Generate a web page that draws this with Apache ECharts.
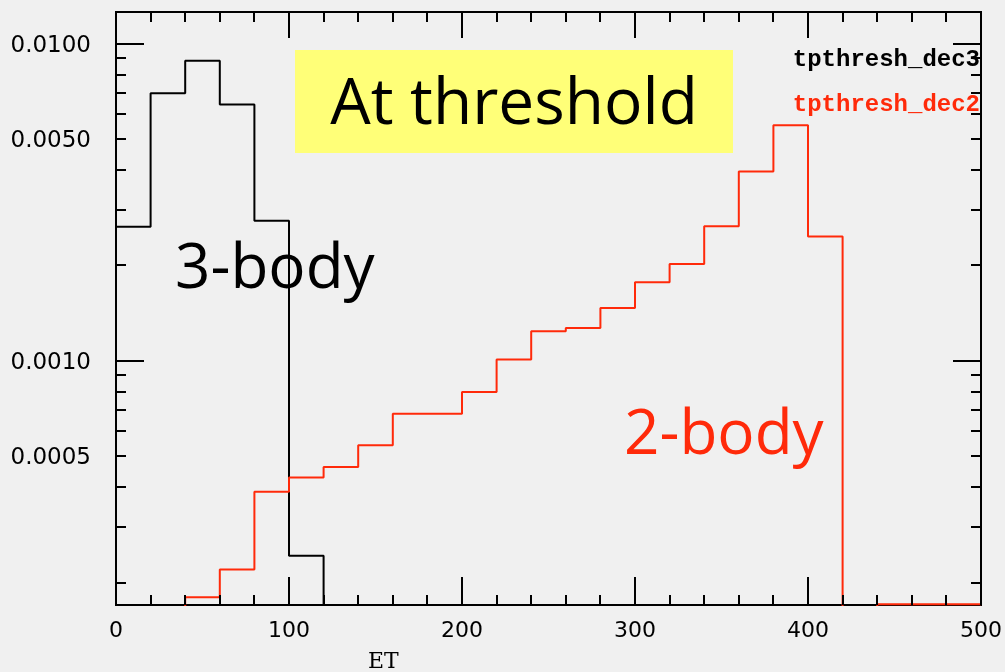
<!DOCTYPE html>
<html>
<head>
<meta charset="utf-8">
<script src="https://cdn.jsdelivr.net/npm/echarts@6/dist/echarts.min.js"></script>
<style>
html,body{margin:0;padding:0;background:#f0f0f0;}
#chart{width:1005px;height:672px;}
</style>
</head>
<body>
<div id="chart"></div>
<script>
// ---- data ----
const binEdges = [0,20,40,60,80,100,120,140,160,180,200,220,240,260,280,300,320,340,360,380,400,420,440,460,480,500];
const dec3Values = [0.00265,0.00699,0.00884,0.00644,0.00277,0.000243,0,0,0,0,0,0,0,0,0,0,0,0,0,0,0,0,0,0,0];
const dec2Values = [0,0,0.000180,0.000220,0.000387,0.000429,0.000463,0.000542,0.000682,0.000682,0.000798,0.00101,0.00124,0.00127,0.00147,0.00177,0.00202,0.00266,0.00396,0.00554,0.00247,0,0.000171,0.000171,0.000171];
const xTickValues = [0,100,200,300,400,500];
const xMinorTickValues = [20,40,60,80,120,140,160,180,220,240,260,280,320,340,360,380,420,440,460,480];
const yTickValues = [0.0002,0.0003,0.0004,0.0005,0.0006,0.0007,0.0008,0.0009,0.001,0.002,0.003,0.004,0.005,0.006,0.007,0.008,0.009,0.01];
const yTickLabels = {0.01:'0.0100',0.005:'0.0050',0.001:'0.0010',0.0005:'0.0005'};
const yMajor = [0.001,0.01];
const seriesNames = ['tpthresh_dec3','tpthresh_dec2'];

const Y_MIN = 0.00017, Y_MAX = 0.0126, Y_FLOOR = 1e-6;
const RED = '#ff2a0a';

function stepData(vals){
  const out = vals.map((v,i)=>[binEdges[i], v>0?v:Y_FLOOR]);
  const last = vals[vals.length-1];
  out.push([binEdges[binEdges.length-1], last>0?last:Y_FLOOR]);
  return out;
}

const chart = echarts.init(document.getElementById('chart'), null, {renderer:'canvas'});
const xAxisBase = {
  type:'value', min:0, max:500, interval:100,
  axisLine:{show:true, lineStyle:{color:'#000', width:2}},
  axisTick:{show:false},
  splitLine:{show:false}
};
function line(x1,y1,x2,y2){
  return {type:'line', shape:{x1:x1,y1:y1,x2:x2,y2:y2}, style:{stroke:'#000', lineWidth:2}};
}
chart.setOption({
  backgroundColor:'#f0f0f0',
  animation:false,
  grid:{left:116, top:12, right:22, bottom:67, show:true, borderColor:'#000', borderWidth:2, backgroundColor:'transparent'},
  xAxis:[
    Object.assign({}, xAxisBase, {position:'bottom',
      axisLabel:{show:true, margin:15, color:'#000', fontFamily:'DejaVu Sans', fontSize:22}}),
    Object.assign({}, xAxisBase, {position:'top', axisLabel:{show:false}})
  ],
  yAxis:{type:'log', min:Y_MIN, max:Y_MAX,
    axisLine:{show:false}, axisTick:{show:false}, axisLabel:{show:false}, splitLine:{show:false}},
  series:[
    {name:seriesNames[0], type:'line', step:'end', symbol:'none', clip:true,
      data:stepData(dec3Values), lineStyle:{color:'#000', width:2}, z:3},
    {name:seriesNames[1], type:'line', step:'end', symbol:'none', clip:true,
      data:stepData(dec2Values), lineStyle:{color:RED, width:2}, z:4},
    // y ticks (log minor ticks at 2..9 x 10^n) on left and right frame
    {type:'custom', clip:false, z:5,
      data:yTickValues.map(v=>[0,v]),
      renderItem:function(params, api){
        const v = yTickValues[params.dataIndex];
        const p = api.coord([0, v]);
        const cs = params.coordSys;
        const len = yMajor.indexOf(v)>=0 ? 28 : 10;
        const y = Math.round(p[1]);
        const children = [line(cs.x, y, cs.x+len, y), line(cs.x+cs.width-len, y, cs.x+cs.width, y)];
        const lab = yTickLabels[v];
        if(lab){
          children.push({type:'text', x:cs.x-25, y:y+2,
            style:{text:lab, fill:'#000', font:'23px "DejaVu Sans"', align:'right', verticalAlign:'middle'}});
        }
        return {type:'group', children:children};
      }
    },
    // x ticks on bottom and top frame
    {type:'custom', clip:false, z:5,
      data:xTickValues.map(v=>[v, Y_MAX, 1]).concat(xMinorTickValues.map(v=>[v, Y_MAX, 0])),
      renderItem:function(params, api){
        const xv = api.value(0);
        const major = api.value(2) === 1;
        const p = api.coord([xv, Y_MAX]);
        const cs = params.coordSys;
        const x = Math.round(p[0]);
        const lenB = major ? 28 : 10, lenT = major ? 26 : 10;
        return {type:'group', children:[
          line(x, cs.y+cs.height, x, cs.y+cs.height-lenB),
          line(x, cs.y, x, cs.y+lenT)
        ]};
      }
    }
  ],
  graphic:[
    {type:'rect', left:295, top:50, shape:{width:438, height:103}, style:{fill:'#ffff78'}, z:10},
    {type:'text', x:514, y:106, z:11,
      style:{text:'At threshold', fill:'#000', font:'64px "Comic Sans MS", "Open Sans", sans-serif', align:'center', verticalAlign:'middle'}},
    {type:'text', x:175, y:270, z:11,
      style:{text:'3-body', fill:'#000', font:'62px "Comic Sans MS", "Open Sans", sans-serif', align:'left', verticalAlign:'middle'}},
    {type:'text', x:624, y:436, z:11,
      style:{text:'2-body', fill:RED, font:'62px "Comic Sans MS", "Open Sans", sans-serif', align:'left', verticalAlign:'middle'}},
    {type:'text', x:980, y:60, z:11,
      style:{text:seriesNames[0], fill:'#000', font:'bold 24px "Liberation Mono", monospace', align:'right', verticalAlign:'middle'}},
    {type:'text', x:980, y:105, z:11,
      style:{text:seriesNames[1], fill:RED, font:'bold 24px "Liberation Mono", monospace', align:'right', verticalAlign:'middle'}},
    {type:'text', x:368, y:662, z:11,
      style:{text:'ET', fill:'#000', font:'22px "DejaVu Serif", serif', align:'left', verticalAlign:'middle'}}
  ]
});
</script>
</body>
</html>
